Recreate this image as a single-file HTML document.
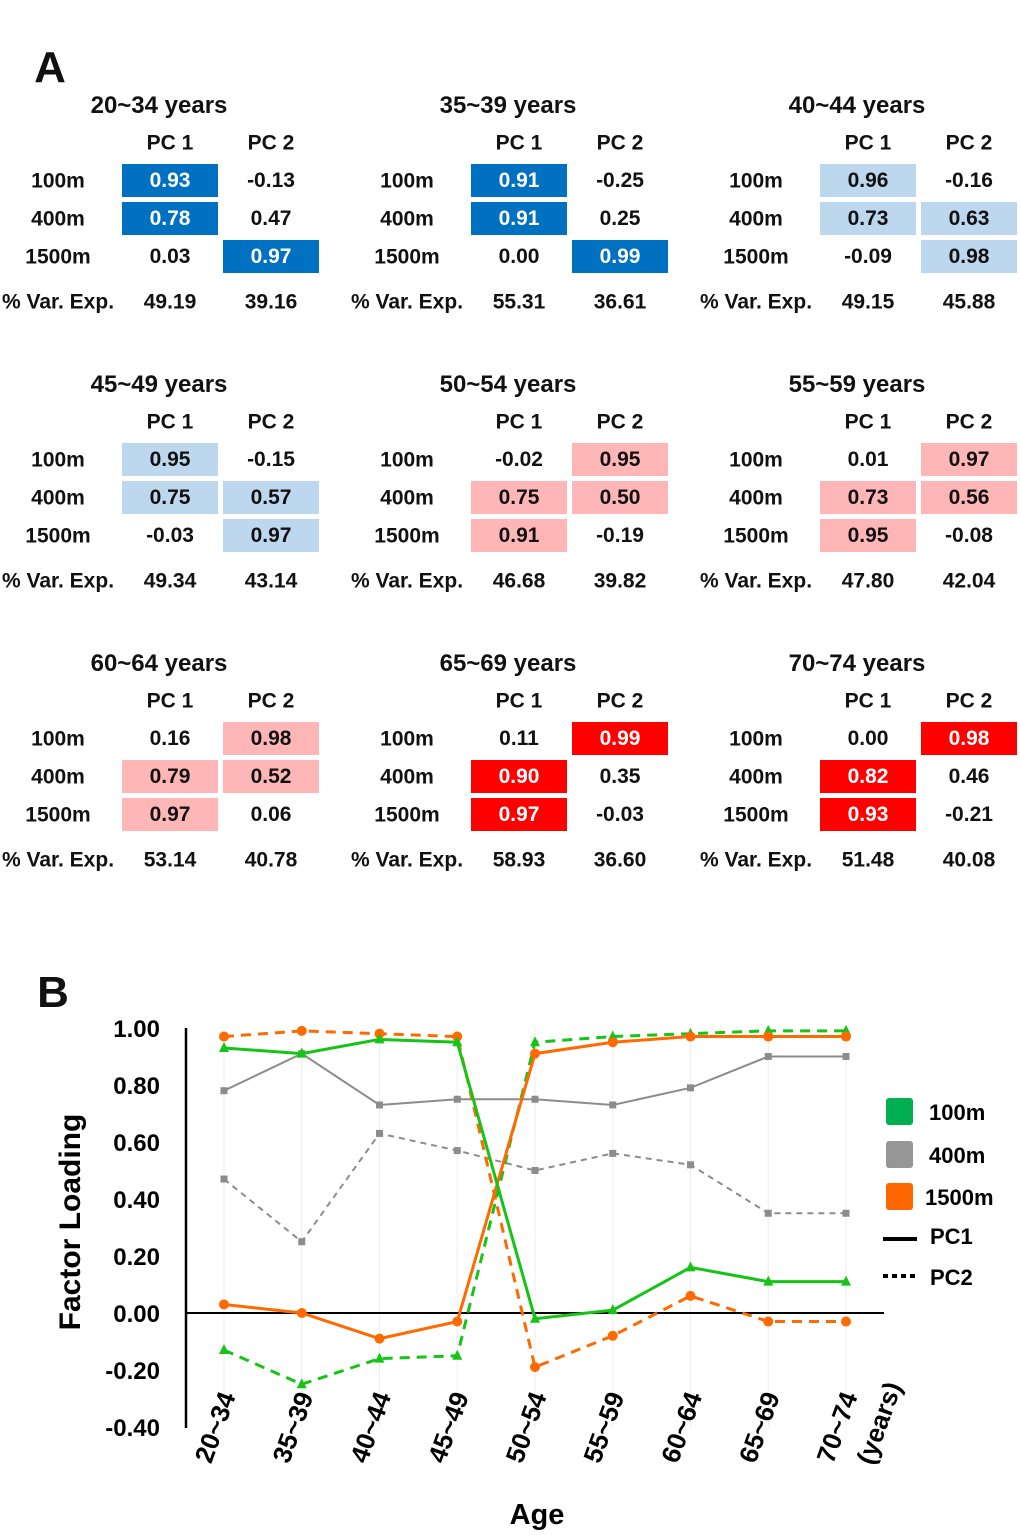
<!DOCTYPE html>
<html><head><meta charset="utf-8">
<style>
body{margin:0;background:#fff;width:1020px;height:1535px;overflow:hidden;position:relative;font-family:"Liberation Sans",sans-serif;font-weight:bold;color:#111}
.t{position:absolute;white-space:nowrap;transform:translate(-50%,-50%);line-height:1}
.cell{position:absolute;width:96px;height:33px;display:flex;align-items:center;justify-content:center;font-size:21px}
svg text{font-family:"Liberation Sans",sans-serif;font-weight:bold}
</style></head><body>
<div class="t" style="left:50px;top:68px;font-size:44px">A</div>
<div class="t" style="left:53px;top:993px;font-size:44px">B</div>
<div id="tables"></div>
<svg id="chart" width="1020" height="1535" style="position:absolute;left:0;top:0"></svg>
<script>
// Table data
const groups=["20~34","35~39","40~44","45~49","50~54","55~59","60~64","65~69","70~74"];
const pc1=[[0.93,0.78,0.03],[0.91,0.91,0.00],[0.96,0.73,-0.09],[0.95,0.75,-0.03],[-0.02,0.75,0.91],[0.01,0.73,0.95],[0.16,0.79,0.97],[0.11,0.90,0.97],[0.00,0.82,0.93]];
const pc2=[[-0.13,0.47,0.97],[-0.25,0.25,0.99],[-0.16,0.63,0.98],[-0.15,0.57,0.97],[0.95,0.50,-0.19],[0.97,0.56,-0.08],[0.98,0.52,0.06],[0.99,0.35,-0.03],[0.98,0.46,-0.21]];
const varExp=[[49.19,39.16],[55.31,36.61],[49.15,45.88],[49.34,43.14],[46.68,39.82],[47.80,42.04],[53.14,40.78],[58.93,36.60],[51.48,40.08]];
const hl1=[[1,1,0],[1,1,0],[1,1,0],[1,1,0],[0,1,1],[0,1,1],[0,1,1],[0,1,1],[0,1,1]];
const hl2=[[0,0,1],[0,0,1],[0,1,1],[0,1,1],[1,1,0],[1,1,0],[1,1,0],[1,0,0],[1,0,0]];
const bg=["#0070c0","#0070c0","#bdd7ee","#bdd7ee","#ffb6b6","#ffb6b6","#ffb6b6","#ff0000","#ff0000"];
const fg=["#fff","#fff","#111","#111","#111","#111","#111","#fff","#fff"];
const events=["100m","400m","1500m"];
const tb=document.getElementById('tables');
function mk(txt,cls,x,y,fs){const d=document.createElement('div');d.className=cls;d.textContent=txt;d.style.left=x+'px';d.style.top=y+'px';if(fs)d.style.fontSize=fs+'px';tb.appendChild(d);return d;}
const f=v=>v.toFixed(2);
groups.forEach((g,i)=>{
  const ox=(i%3)*349, oy=Math.floor(i/3)*279;
  let e=mk(g+" years","t",ox+159,oy+106,24);
  
  
  e=mk("PC 1","t",ox+170,oy+143,21);
  
  
  e=mk("PC 2","t",ox+271,oy+143,21);
  
  
  events.forEach((ev,r)=>{
    const cy=oy+181+r*38;
    e=mk(ev,"t",ox+58,cy,21);
    
    
    [[pc1,hl1,122],[pc2,hl2,223]].forEach(([arr,hl,cx],k)=>{
      const c=mk(f(arr[i][r]),"cell",ox+cx,cy-17);
      
      
      if(hl[i][r]){c.style.background=bg[i];c.style.color=fg[i];}
    });
  });
  e=mk("% Var. Exp.","t",ox+58,oy+302,21);
  
  
  e=mk(f(varExp[i][0]),"t",ox+170,oy+302,21);
  
  
  e=mk(f(varExp[i][1]),"t",ox+271,oy+302,21);
  
  
});

// Chart data
const ages=["20~34","35~39","40~44","45~49","50~54","55~59","60~64","65~69","70~74"];
const yTicks=[1.00,0.80,0.60,0.40,0.20,0.00,-0.20,-0.40];
const pc1_100=[0.93,0.91,0.96,0.95,-0.02,0.01,0.16,0.11,0.11];
const pc1_400=[0.78,0.91,0.73,0.75,0.75,0.73,0.79,0.90,0.90];
const pc1_1500=[0.03,0.00,-0.09,-0.03,0.91,0.95,0.97,0.97,0.97];
const pc2_100=[-0.13,-0.25,-0.16,-0.15,0.95,0.97,0.98,0.99,0.99];
const pc2_400=[0.47,0.25,0.63,0.57,0.50,0.56,0.52,0.35,0.35];
const pc2_1500=[0.97,0.99,0.98,0.97,-0.19,-0.08,0.06,-0.03,-0.03];

const svg=document.getElementById('chart');const NS="http://www.w3.org/2000/svg";
function el(t,a,p){const e=document.createElementNS(NS,t);for(const k in a)e.setAttribute(k,a[k]);(p||svg).appendChild(e);return e;}
const X=i=>224+i*77.75, Y=v=>1313-v*285;
ages.forEach((a,i)=>{
  let g=el('line',{x1:X(i),x2:X(i),y1:Y(1.0),y2:Y(-0.4),stroke:'#eee','stroke-width':1});
  
  
  const t=el('text',{x:0,y:0,'font-size':26,'text-anchor':'end',transform:`translate(${X(i)+12},${1396}) rotate(-70)`});
  t.textContent=a;
  
  
});
let yr=el('text',{x:0,y:0,'font-size':26,'text-anchor':'end',transform:`translate(${X(8)+56},1386) rotate(-70)`});yr.textContent="(years)";


yTicks.forEach(v=>{
  const t=el('text',{x:160,y:Y(v)+9,'font-size':24,'text-anchor':'end'});t.textContent=v.toFixed(2);
  
  
});
let ax=el('line',{x1:186,x2:186,y1:Y(1.0),y2:Y(-0.4)+1,stroke:'#000','stroke-width':2.5});


let zl=el('line',{x1:186,x2:884,y1:Y(0),y2:Y(0),stroke:'#000','stroke-width':2});


let yt=el('text',{x:0,y:0,'font-size':30,'text-anchor':'middle',transform:'translate(80,1222) rotate(-90)'});yt.textContent="Factor Loading";


let xt=el('text',{x:537,y:1524,'font-size':29,'text-anchor':'middle'});xt.textContent="Age";



function series(vals,color,w,dash,marker,name){
  const pts=vals.map((v,i)=>X(i)+','+Y(v)).join(' ');
  const pl=el('polyline',{points:pts,fill:'none',stroke:color,'stroke-width':w,'stroke-dasharray':dash||'none'});
  
  
  vals.forEach((v,i)=>{
    const x=X(i),y=Y(v);let m;
    if(marker==='tri')m=el('polygon',{points:`${x},${y-6} ${x-5},${y+4} ${x+5},${y+4}`,fill:color});
    else if(marker==='sq')m=el('rect',{x:x-3.5,y:y-3.5,width:7,height:7,fill:color});
    else m=el('circle',{cx:x,cy:y,r:5,fill:color});
    
    
  });
}
series(pc2_400,'#8c8c8c',2,'6,5','sq','pc2-400m-line');
series(pc1_400,'#8c8c8c',2,null,'sq','pc1-400m-line');
series(pc2_1500,'#ff6a00',3,'10,7','dot','pc2-1500m-line');
series(pc2_100,'#16c416',3,'10,7','tri','pc2-100m-line');
series(pc1_1500,'#ff6a00',3,null,'dot','pc1-1500m-line');
series(pc1_100,'#16c416',3,null,'tri','pc1-100m-line');

const leg=[["100m","#00b050",1112],["400m","#969696",1155],["1500m","#ff6600",1197]];
leg.forEach(([n,c,y])=>{
  const r=el('rect',{x:886,y:y-14,width:27,height:27,rx:3,fill:c});
  
  
  const t=el('text',{x:n==="1500m"?925:929,y:y+8,'font-size':22});t.textContent=n;
  
  
});
let l1=el('line',{x1:883,x2:917,y1:1239,y2:1239,stroke:'#000','stroke-width':4});


let t1=el('text',{x:930,y:1244,'font-size':22});t1.textContent="PC1";


let l2=el('line',{x1:883,x2:917,y1:1276,y2:1276,stroke:'#000','stroke-width':4,'stroke-dasharray':'5,4'});


let t2=el('text',{x:930,y:1285,'font-size':22});t2.textContent="PC2";


</script>
</body></html>
